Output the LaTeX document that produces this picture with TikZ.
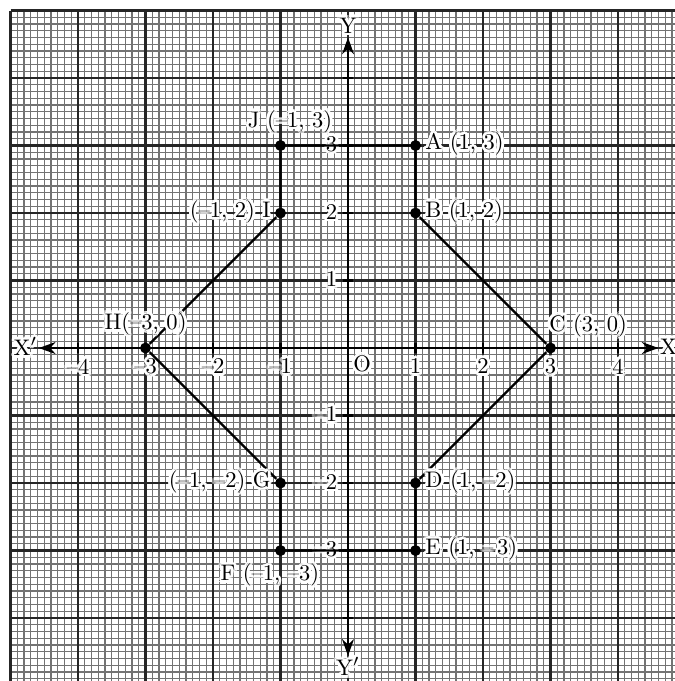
\documentclass[tikz,border=0pt]{standalone}
\usepackage{contour}
\usetikzlibrary{positioning,arrows.meta}
\contourlength{1.2pt}
\newcommand{\wt}[1]{\contour{white}{#1}}
\tikzset{
  minorgrid/.style={draw=black!55, line width=0.5pt},
  majorgrid/.style={draw=black!85, line width=0.9pt},
  axisline/.style={line width=1.1pt, {Stealth[length=7pt,width=5pt]}-{Stealth[length=7pt,width=5pt]}},
  edge/.style={line width=1pt},
  pt/.style={circle, fill=black, inner sep=0pt, minimum size=4.6pt},
  lbl/.style={inner sep=1.5pt, font=\fontsize{9.5}{11}\selectfont}
}
\begin{document}
\begin{tikzpicture}
\useasboundingbox (-5.156,-4.933) rectangle (4.844,5.156);
\fill[white] (-5.156,-4.933) rectangle (4.844,5.156);
\begin{scope}
\clip (-5.156,-4.933) rectangle (4.844,5.156);
\draw[minorgrid] (-5,-5) grid[step=0.1] (5,5);
\draw[majorgrid] (-5,-5) grid[step=1] (5,5);
\end{scope}

\coordinate (xl) at (-4.58,0);
\coordinate (xr) at (4.6,0);
\coordinate (yt) at (0,4.6);
\coordinate (yb) at (0,-4.56);
\draw[axisline] (xl) -- (xr);
\draw[axisline] (yb) -- (yt);
\node[lbl, anchor=east, inner sep=0.5pt] (xlab1) at (xl) {\wt{X$'$}};
\node[lbl, anchor=west, inner sep=0.5pt] (xlab2) at (xr) {\wt{X}};
\node[lbl, anchor=south, inner sep=0.5pt] (ylab1) at (yt) {\wt{Y}};
\node[lbl, anchor=north, inner sep=0.5pt] (ylab2) at (yb) {\wt{Y$'$}};

\foreach \i in {-4,-3,-2,-1,1,2,3,4} {
  \draw[line width=0.9pt] (\i,-0.08) -- (\i,0.08);
  \draw[line width=0.9pt] (-0.08,\i) -- (0.08,\i);
}
\foreach \i/\t in {-4/--4,-3/--3,-2/--2,-1/--1,1/1,2/2,3/3,4/4}
  \node[lbl, anchor=north] (xt\i) at (\i,-0.1) {\wt{\t}};
\foreach \i/\t in {-3/--3,-2/--2,-1/--1,1/1,2/2,3/3}
  \node[lbl, anchor=east] (yt\i) at (-0.1,\i) {\wt{\t}};
\node[lbl] (orig) at (0.21,-0.25) {\wt{O}};

\node[pt] (A) at (1,3) {};
\node[pt] (B) at (1,2) {};
\node[pt] (C) at (3,0) {};
\node[pt] (D) at (1,-2) {};
\node[pt] (E) at (1,-3) {};
\node[pt] (F) at (-1,-3) {};
\node[pt] (G) at (-1,-2) {};
\node[pt] (H) at (-3,0) {};
\node[pt] (I) at (-1,2) {};
\node[pt] (J) at (-1,3) {};
\draw[edge] (A) -- (B) -- (C) -- (D) -- (E) -- (F) -- (G) -- (H) -- (I) -- (J) -- (A);

\node[lbl, right=0pt of A] (Alab) {\wt{A (1, 3)}};
\node[lbl, right=0pt of B] (Blab) {\wt{B (1, 2)}};
\node[lbl, above right=0pt and -4pt of C] (Clab) {\wt{C (3, 0)}};
\node[lbl, right=0pt of D] (Dlab) {\wt{D (1, --2)}};
\node[lbl, right=0pt of E] (Elab) {\wt{E (1, --\,3)}};
\node[lbl, below=1.5pt of F, xshift=-4.5pt] (Flab) {\wt{F (--1, --3)}};
\node[lbl, left=0pt of G] (Glab) {\wt{(--1, --2) G}};
\node[lbl, above=0pt of H] (Hlab) {\wt{H(--3, 0)}};
\node[lbl, left=0pt of I] (Ilab) {\wt{(--1, 2) I}};
\node[lbl, above=0pt of J, xshift=4pt] (Jlab) {\wt{J (--1, 3)}};
\end{tikzpicture}
\end{document}
